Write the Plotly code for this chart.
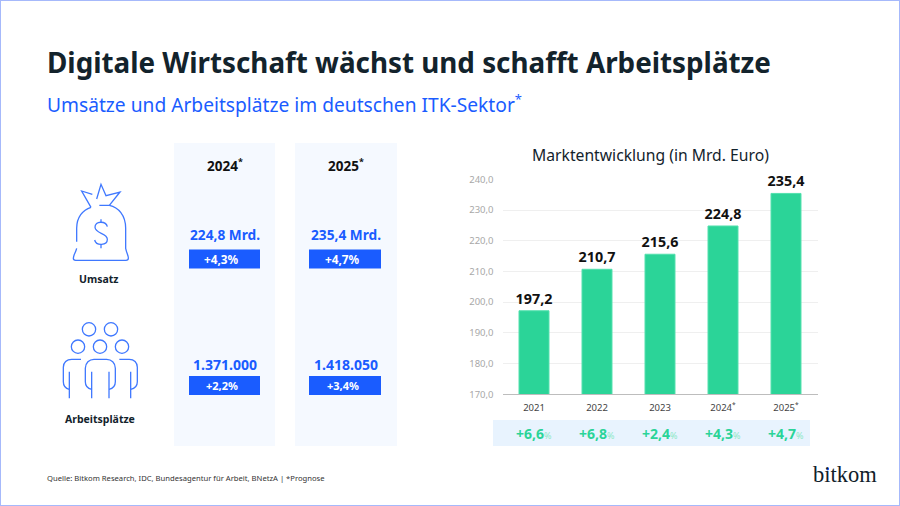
"""Bitkom slide: market development of the German ITK sector."""
import re

import plotly.graph_objects as go

STAR = '<sup><span style="font-size:9px">*</span></sup>'

YEARS = ['2021', '2022', '2023', '2024<sup>*</sup>', '2025<sup>*</sup>']
REVENUE = [197.2, 210.7, 215.6, 224.8, 235.4]
GROWTH = ['+6,6', '+6,8', '+2,4', '+4,3', '+4,7']
Y_TICKS = [170, 180, 190, 200, 210, 220, 230, 240]

COLUMN_YEARS = ['2024' + STAR, '2025' + STAR]
UMSATZ = ['224,8 Mrd.', '235,4 Mrd.']
UMSATZ_GROWTH = ['+4,3%', '+4,7%']
JOBS = ['1.371.000', '1.418.050']
JOBS_GROWTH = ['+2,2%', '+3,4%']

W, H = 900, 506
FONT = 'Noto Sans'
BLUE = '#1a5cff'
ICON_BLUE = '#3f78ff'
DARK = '#13232c'
GREEN = '#2bd498'


def px(x):
    return x / W


def py(y):
    return 1 - y / H


def icon_path(path, ox=0, oy=130, scale=1 / 3):
    # path is written in zoomed picture units, convert to paper coordinates
    def convert(match):
        x = ox + float(match.group(1)) * scale
        y = oy + float(match.group(2)) * scale
        return '%.5f,%.5f' % (px(x), py(y))
    return re.sub(r'([\d.]+),([\d.]+)', convert, path)


def rect(x0, y0, x1, y1, color):
    return dict(type='rect', xref='paper', yref='paper', x0=px(x0), x1=px(x1), y0=py(y0), y1=py(y1),
                fillcolor=color, line_width=0, layer='below')


def stroke(path):
    return dict(type='path', xref='paper', yref='paper', path=icon_path(path),
                line=dict(color=ICON_BLUE, width=1.3), layer='above')


def circle(cx, cy, r=20):
    return dict(type='circle', xref='paper', yref='paper',
                x0=px(cx / 3 - r / 3), x1=px(cx / 3 + r / 3),
                y0=py(130 + cy / 3 - r / 3), y1=py(130 + cy / 3 + r / 3),
                line=dict(color=ICON_BLUE, width=1.3))


def label(x, y, text, size, color=DARK, bold=False, anchor='center', font=FONT):
    return dict(xref='paper', yref='paper', x=px(x), y=py(y), text='<b>%s</b>' % text if bold else text,
                showarrow=False, xanchor=anchor, yanchor='middle',
                font=dict(family=font, size=size, color=color))


fig = go.Figure(go.Bar(
    x=YEARS, y=REVENUE,
    marker=dict(color=GREEN, line=dict(color='#52e0ad', width=1)),
    texttemplate='<b>%{y:.1f}</b>', textposition='outside', cliponaxis=False, constraintext='none',
    textfont=dict(family=FONT, size=14.3, color='#111111'),
))

shapes = [
    dict(type='rect', xref='paper', yref='paper', x0=0, x1=1, y0=0, y1=1,
         line=dict(color='#a6b9fb', width=2), layer='below'),
    rect(174, 143, 275, 446, '#f5f9ff'),
    rect(295, 143, 397, 446, '#f5f9ff'),
    rect(493, 420, 810, 446, '#e8f3fe'),
]
annotations = [
    label(44.5, 62, 'Digitale Wirtschaft wächst und schafft Arbeitsplätze', 27.8, bold=True, anchor='left'),
    label(44.5, 104, 'Umsätze und Arbeitsplätze im deutschen ITK-Sektor' + STAR.replace('9px', '13px'), 19.2, BLUE, anchor='left'),
    label(650.5, 155, 'Marktentwicklung (in Mrd. Euro)', 15.7),
    label(98, 279, 'Umsatz', 10.5, bold=True),
    label(100, 419, 'Arbeitsplätze', 10.5, bold=True),
    label(44.5, 478, 'Quelle: Bitkom Research, IDC, Bundesagentur für Arbeit, BNetzA | *Prognose', 7.65, '#333333', anchor='left'),
    label(845, 474, 'bitkom', 22.5, '#10202a', font='Liberation Serif'),
]

for i, (cx, pill_x0, pill_x1) in enumerate([(224.5, 189, 260), (345.5, 309, 381)]):
    shapes.append(rect(pill_x0, 249.5, pill_x1, 268.5, BLUE))
    shapes.append(rect(pill_x0, 376, pill_x1, 395, BLUE))
    annotations += [
        label(cx, 165, COLUMN_YEARS[i], 13.5, '#111111', bold=True),
        label(cx, 234, UMSATZ[i], 13.7, BLUE, bold=True),
        label(cx - 3, 259, UMSATZ_GROWTH[i], 11.8, 'white', bold=True),
        label(cx, 364, JOBS[i], 14, BLUE, bold=True),
        label(cx - 3, 385.5, JOBS_GROWTH[i], 11, 'white', bold=True),
    ]

# numeric-looking category names get read as positions, so go by index here
for position, growth in enumerate(GROWTH):
    annotations.append(dict(
        xref='x', yref='paper', x=position, y=py(433), showarrow=False, yanchor='middle',
        text='<b>%s</b><span style="font-size:9px;color:#8ce8c6">%%</span>' % growth,
        font=dict(family=FONT, size=14, color=GREEN)))

# money bag
shapes += [
    stroke('M 273,232 L 245,183 L 277,193'),
    stroke('M 290,207 L 303,163 L 318,197 L 360,186 L 328,226 L 298,226'),
    stroke('M 328,226 C 355,232 377,255 377,295 L 377,355 C 380,370 386,378 385,385 Q 385,391 378,391 '
           'L 227,391 Q 220,391 220,385 C 220,375 227,368 230,355'),
    stroke('M 230,335 L 230,295 C 230,262 248,240 273,232'),
    stroke('M 322,290 C 318,272 284,272 285,292 C 286,312 322,308 322,328 C 322,348 288,348 284,330'),
    stroke('M 303,268 L 303,277'),
    stroke('M 303,343 L 303,355'),
]
# people
shapes += [circle(cx, cy) for cx, cy in
           [(267, 598), (333, 598), (234, 650), (300, 650), (366, 650)]]
shapes += [
    stroke('M 275,778 C 262,775 256,768 256,755 L 256,715 C 256,698 268,688 282,688 L 320,688 '
           'C 334,688 346,698 346,715 L 346,755 C 346,768 340,775 327,778'),
    stroke('M 275,725 L 275,805'),
    stroke('M 327,725 L 327,805'),
    stroke('M 243,688 L 215,688 C 200,688 190,698 190,712 L 190,755 C 190,768 196,775 208,778'),
    stroke('M 208,725 L 208,805'),
    stroke('M 358,688 L 388,688 C 402,688 412,698 412,712 L 412,755 C 412,768 406,775 392,778'),
    stroke('M 392,725 L 392,805'),
    dict(type='circle', xref='paper', yref='paper', x0=px(826.3), x1=px(829.1), y0=py(467.6), y1=py(470.4),
         fillcolor=BLUE, line_width=0),
]

fig.update_layout(
    width=W, height=H, margin=dict(l=0, r=0, t=0, b=0, autoexpand=False), autosize=False,
    paper_bgcolor='white', plot_bgcolor='white', showlegend=False, separators=',.',
    bargap=0.524, shapes=shapes, annotations=annotations,
    font=dict(family=FONT),
)
fig.update_xaxes(
    type='category', categoryorder='array', categoryarray=YEARS, range=[-0.5, 4.5],
    domain=[px(502.5), px(817.5)], showgrid=False, showline=True, linecolor='#bdbdbd', linewidth=1,
    ticks='', ticklabelstandoff=4, tickangle=0, tickfont=dict(family=FONT, size=9.5, color='#444444'),
)
fig.update_yaxes(
    domain=[py(394.3), py(179.3)], range=[170, 240], tickvals=Y_TICKS, tickformat='.1f',
    showgrid=True, gridcolor='#efefef', gridwidth=1, zeroline=False, showline=False,
    ticks='', ticklabelstandoff=8, tickfont=dict(family=FONT, size=9.5, color='#a8a8a8'),
)
fig.write_html('out.html', config={'displayModeBar': False},
               post_script="document.body.style.margin='0'")
